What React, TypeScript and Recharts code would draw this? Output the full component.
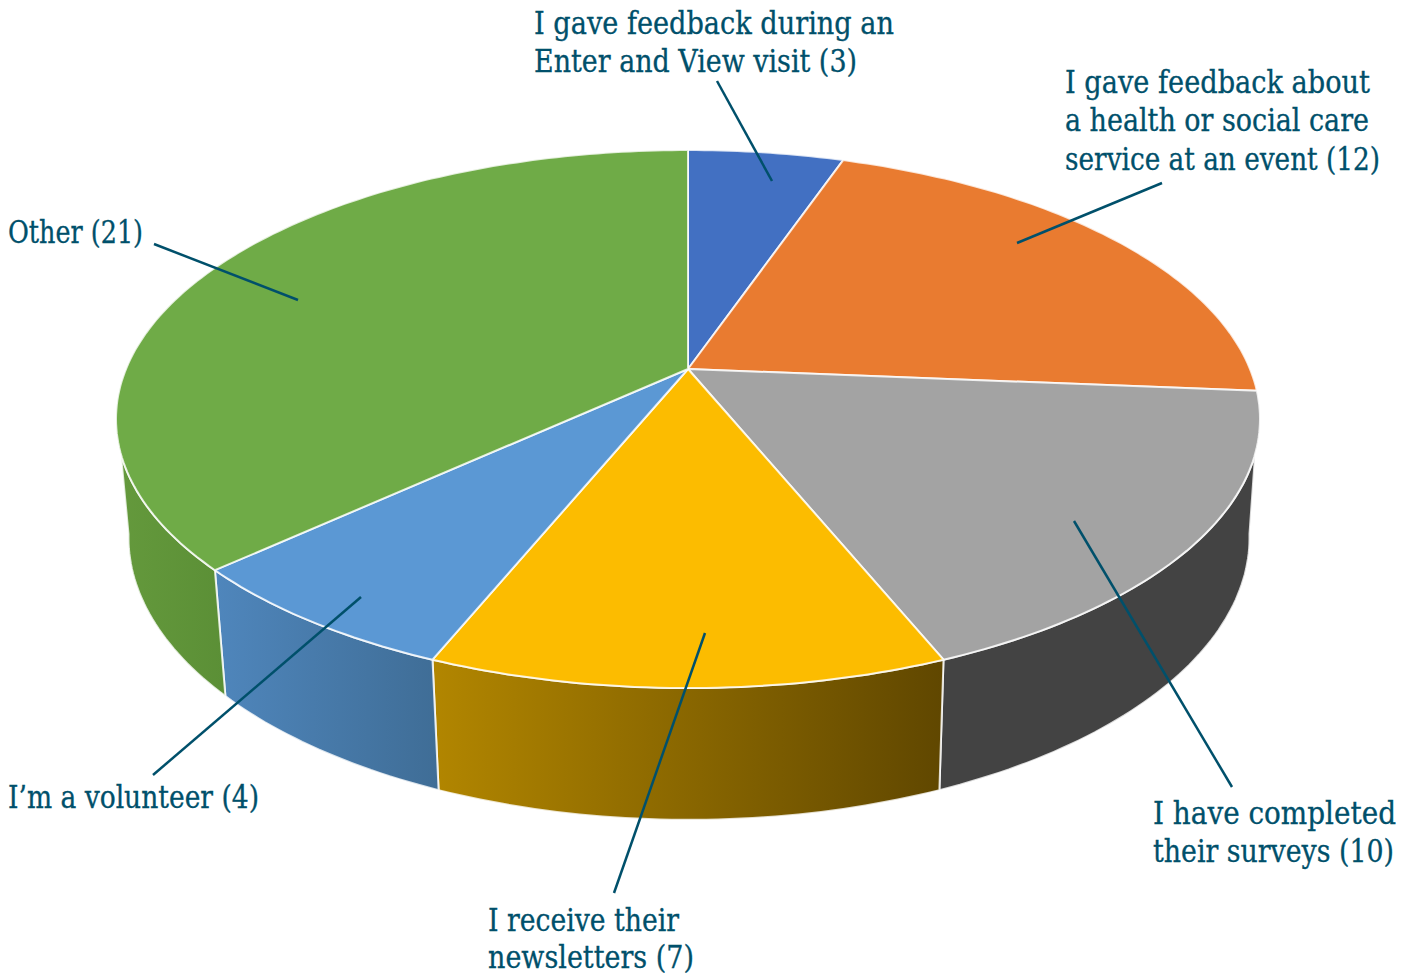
import React from "react"
import { Pie, PieChart } from "recharts"

const categories = [
    ["I gave feedback during an", "Enter and View visit"],
    ["I gave feedback about", "a health or social care", "service at an event"],
    ["I have completed", "their surveys"],
    ["I receive their", "newsletters"],
    ["I\u2019m a volunteer"],
    ["Other"],
]
const counts = [3, 12, 10, 7, 4, 21]

const topColors = ["#4270c2", "#e97b30", "#a3a3a3", "#fcbc00", "#5b98d4", "#6fab47"]
const sideColorsFrom = ["#34568f", "#b25e25", "#434343", "#b28600", "#4f86bc", "#64993c"]
const sideColorsTo = ["#34568f", "#b25e25", "#434343", "#604700", "#3f6d96", "#5b8f36"]

const tableData = categories.map((lines, i) => ({ name: lines.join(" "), value: counts[i], slice: i }))

// where each label and its leader line sit on the page
const labelLayout = [
    { x: 534, baselines: [34, 72], widths: [360, 323], leader: [717, 81, 772, 181] },
    { x: 1065, baselines: [93, 131, 170], widths: [305, 304, 315], leader: [1162, 183, 1017, 243] },
    { x: 1153, baselines: [824, 862], widths: [243, 241], leader: [1232, 787, 1074, 521] },
    { x: 488, baselines: [931, 968], widths: [191, 206], leader: [614, 893, 705, 633] },
    { x: 8, baselines: [808], widths: [251], leader: [153, 775, 361, 597] },
    { x: 8, baselines: [243], widths: [135], leader: [154, 244, 298, 300] },
]

const TEXT_COLOR = "#00506b"
const EDGE_COLOR = "rgba(255,255,255,0.8)"
const PERSPECTIVE = 0.186

// clockwise degrees from 12 o'clock -> page position on the tilted top face
const projectTop = (deg: number, cx: number, cy: number, r: number) => {
    const a = (deg * Math.PI) / 180
    const u = Math.sin(a)
    const v = Math.cos(a)
    const d = 1 + PERSPECTIVE * v
    return [cx + (0.9825 * r * u) / d, cy - (0.454 * r * v) / d]
}

// same, on the bottom face of the disc
const projectBottom = (deg: number, cx: number, cy: number, r: number) => {
    const [x, y] = projectTop(deg, cx, cy, r)
    return [cx + 1 + 0.98 * (x - cx), y * 1.05 + 97.4]
}

const arc = (project: typeof projectTop, from: number, to: number, cx: number, cy: number, r: number) => {
    const pts: number[][] = []
    const steps = Math.max(2, Math.ceil(Math.abs(to - from)))
    for (let i = 0; i <= steps; i++) {
        pts.push(project(from + ((to - from) * i) / steps, cx, cy, r))
    }
    return pts
}

const toPath = (pts: number[][]) =>
    pts.map((p, i) => `${i === 0 ? "M" : "L"}${p[0].toFixed(1)},${p[1].toFixed(1)}`).join(" ") + " Z"

const sliceAngles = (props: any) => {
    const a = 90 - props.startAngle
    const b = 90 - props.endAngle
    return [Math.min(a, b), Math.max(a, b)]
}

const TopFace = (props: any) => {
    const { cx, cy, outerRadius, slice } = props
    const [from, to] = sliceAngles(props)
    const pts = [[cx, cy], ...arc(projectTop, from, to, cx, cy, outerRadius)]
    return <path d={toPath(pts)} fill={topColors[slice]} stroke={EDGE_COLOR} strokeWidth={2} strokeLinejoin="round" />
}

const SideFace = (props: any) => {
    const { cx, cy, outerRadius, slice } = props
    const [from, to] = sliceAngles(props)
    // only the front of the disc shows its wall
    const topFrom = Math.max(from, 108)
    const topTo = Math.min(to, 252)
    if (topFrom >= topTo) return null
    const bottomFrom = Math.max(from, 100)
    const bottomTo = Math.min(to, 260)
    const pts = [
        ...arc(projectTop, topFrom, topTo, cx, cy, outerRadius),
        ...arc(projectBottom, bottomTo, bottomFrom, cx, cy, outerRadius),
    ]
    return <path d={toPath(pts)} fill={`url(#side${slice})`} stroke={EDGE_COLOR} strokeWidth={2} strokeLinejoin="round" />
}

const renderLabel = (props: any) => {
    const slice = props.slice ?? props.payload?.slice
    const layout = labelLayout[slice]
    const lines = categories[slice]
    const [x1, y1, x2, y2] = layout.leader
    return (
        <g key={slice}>
            <line x1={x1} y1={y1} x2={x2} y2={y2} stroke={TEXT_COLOR} strokeWidth={2.5} />
            {lines.map((line, i) => (
                <text
                    key={i}
                    x={layout.x}
                    y={layout.baselines[i]}
                    textLength={layout.widths[i]}
                    lengthAdjust="spacingAndGlyphs"
                    fill={TEXT_COLOR}
                    stroke={TEXT_COLOR}
                    strokeWidth={0.3}
                    fontFamily="'DejaVu Serif Condensed', 'DejaVu Serif', serif"
                    fontSize={31}
                >
                    {i === lines.length - 1 ? `${line} (${counts[slice]})` : line}
                </text>
            ))}
        </g>
    )
}

export default function App() {
    return (
        <div style={{ position: "absolute", left: 0, top: 0, width: 1416, height: 975, background: "#fff" }}>
            <PieChart width={1416} height={975} margin={{ top: 0, right: 0, bottom: 0, left: 0 }}>
                <defs>
                    {topColors.map((_, i) => (
                        <linearGradient key={i} id={`side${i}`} x1="0" y1="0" x2="1" y2="0">
                            <stop offset="0%" stopColor={sideColorsFrom[i]} />
                            <stop offset="100%" stopColor={sideColorsTo[i]} />
                        </linearGradient>
                    ))}
                </defs>
                <Pie
                    data={tableData}
                    dataKey="value"
                    nameKey="name"
                    cx={688}
                    cy={369}
                    outerRadius={572}
                    startAngle={90}
                    endAngle={-270}
                    stroke="none"
                    shape={SideFace}
                    isAnimationActive={false}
                />
                <Pie
                    data={tableData}
                    dataKey="value"
                    nameKey="name"
                    cx={688}
                    cy={369}
                    outerRadius={572}
                    startAngle={90}
                    endAngle={-270}
                    stroke="none"
                    shape={TopFace}
                    label={renderLabel}
                    labelLine={false}
                    isAnimationActive={false}
                />
            </PieChart>
        </div>
    )
}
